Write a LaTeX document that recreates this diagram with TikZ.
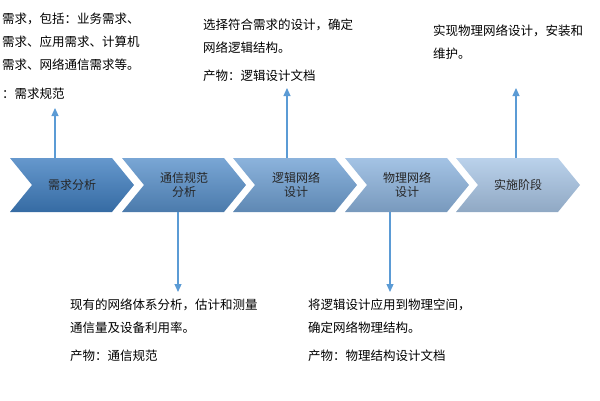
\documentclass[tikz,border=0pt]{standalone}
\usepackage{fontspec}
\newfontfamily\cjk{Noto Sans CJK SC}
\usetikzlibrary{positioning, arrows.meta}
\definecolor{arrowblue}{HTML}{5B9BD5}
\definecolor{stepA}{HTML}{3F7EC0}
\definecolor{stepB}{HTML}{5890CA}
\definecolor{stepC}{HTML}{6FA0D3}
\definecolor{stepD}{HTML}{8DB4DE}
\definecolor{stepE}{HTML}{A9C6E6}
\tikzset{
  steptext/.style={font=\cjk\fontsize{12}{14}\selectfont, align=center, text=black!85},
  desc/.style={font=\cjk\fontsize{12.5}{23}\selectfont, align=left, anchor=north west, inner sep=0pt},
  link/.style={-{Triangle[width=7pt,length=8pt]}, arrowblue, line width=1.2pt},
}
\begin{document}
\begin{tikzpicture}[x=1pt, y=-1pt, >=Stealth]
  \useasboundingbox (0,0) rectangle (600,400);
  \clip (0,0) rectangle (600,400);

  % Chevrons
  \foreach \i/\x/\col in {1/10/stepA, 2/122/stepB, 3/233/stepC, 4/345/stepD, 5/456/stepE} {
    \shade[top color=\col!80!white, bottom color=\col!85!black]
      (\x,158) -- (\x+102,158) -- (\x+124,185) -- (\x+102,212) -- (\x,212) -- (\x+22,185) -- cycle;
  }

  % Texte des etapes
  \node[steptext] (s1) at (72,185) {需求分析};
  \node[steptext] (s2) at (184,185) {通信规范\\分析};
  \node[steptext] (s3) at (296,185) {逻辑网络\\设计};
  \node[steptext] (s4) at (407,185) {物理网络\\设计};
  \node[steptext] (s5) at (518,185) {实施阶段};

  % Descriptions
  \node[desc] (d1) at (2,13) {需求，包括：业务需求、\\需求、应用需求、计算机\\需求、网络通信需求等。};
  \node[desc] (p1) at (2,88) {：需求规范};
  \node[desc] (d3) at (203,19) {选择符合需求的设计，确定\\网络逻辑结构。};
  \node[desc] (p3) at (203,70) {产物：逻辑设计文档};
  \node[desc] (d5) at (433,25) {实现物理网络设计，安装和\\维护。};
  \node[desc] (d2) at (70,299) {现有的网络体系分析，估计和测量\\通信量及设备利用率。};
  \node[desc] (p2) at (70,350) {产物：通信规范};
  \node[desc] (d4) at (308,299) {将逻辑设计应用到物理空间，\\确定网络物理结构。};
  \node[desc] (p4) at (308,350) {产物：物理结构设计文档};

  % Fleches
  \coordinate (top1) at (55,158);  \coordinate (e1) at (55,108);
  \coordinate (top3) at (287,158); \coordinate (e3) at (287,88);
  \coordinate (top5) at (516,158); \coordinate (e5) at (516,88);
  \coordinate (bot2) at (178,212); \coordinate (e2) at (178,292);
  \coordinate (bot4) at (390,212); \coordinate (e4) at (390,292);
  \draw[link] (top1) -- (e1);
  \draw[link] (top3) -- (e3);
  \draw[link] (top5) -- (e5);
  \draw[link] (bot2) -- (e2);
  \draw[link] (bot4) -- (e4);
\end{tikzpicture}
\end{document}
